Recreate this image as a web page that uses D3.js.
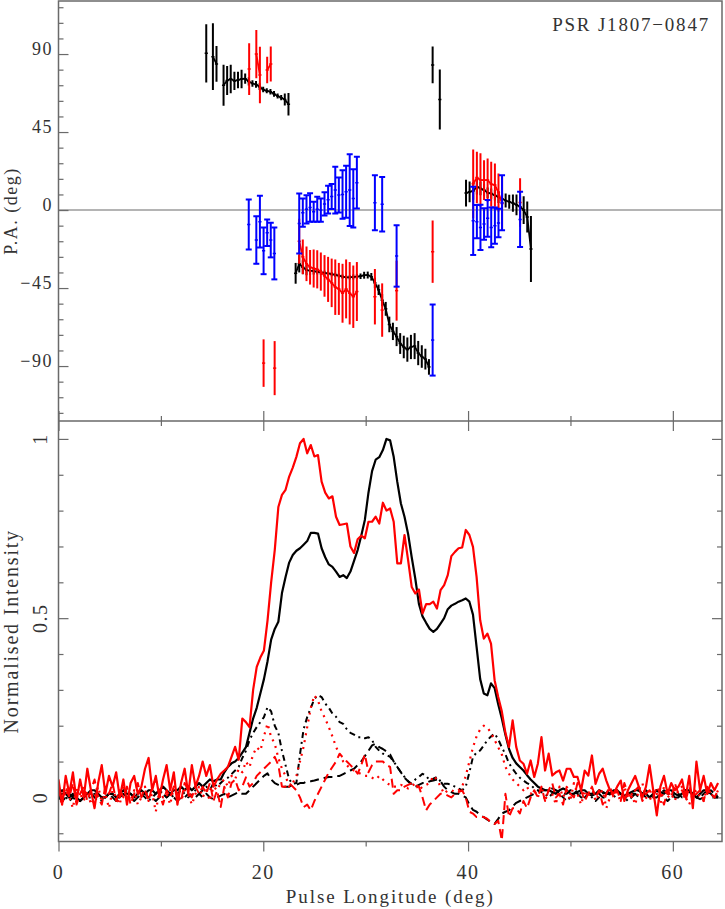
<!DOCTYPE html>
<html><head><meta charset="utf-8">
<script src="https://cdn.jsdelivr.net/npm/d3@7"></script>
<style>
body{margin:0;background:#fff}
text{font-family:"Liberation Serif","Times New Roman",serif;fill:#333;}
</style>
</head><body>
<svg id="c" width="725" height="909"></svg>
<script>
// ---------------- DATA ----------------
const BIN_STEP = 0.352; // pulse longitude bin width (deg)

// Bottom panel profiles, one value per longitude bin
const iBlack = [
0.01,0.02,0.01,0.00,0.01,0.00,-0.01,0.00,0.01,0.02,
0.02,0.01,0.00,0.00,0.01,0.01,0.00,0.01,0.02,0.01,
0.01,0.00,0.01,0.02,0.01,0.02,0.02,0.01,0.02,0.03,
0.02,0.01,0.02,0.02,0.03,0.02,0.03,0.02,0.03,0.04,
0.03,0.04,0.05,0.045,0.05,0.05,0.07,0.085,0.095,0.10,
0.11,0.125,0.14,0.18,0.22,0.25,0.29,0.33,0.38,0.44,
0.47,0.49,0.57,0.615,0.655,0.676,0.688,0.695,0.705,0.715,
0.738,0.738,0.736,0.695,0.67,0.65,0.643,0.63,0.615,0.62,
0.612,0.63,0.66,0.69,0.73,0.774,0.85,0.91,0.942,0.949,
0.969,1.0,0.996,0.95,0.88,0.82,0.783,0.735,0.67,0.61,
0.54,0.505,0.487,0.47,0.462,0.47,0.485,0.50,0.525,0.535,
0.54,0.546,0.55,0.555,0.546,0.51,0.42,0.33,0.29,0.285,
0.318,0.305,0.26,0.22,0.175,0.135,0.11,0.095,0.085,0.075,
0.062,0.05,0.04,0.03,0.025,0.02,0.02,0.015,0.01,0.02,
0.025,0.02,0.01,0.01,0.015,0.02,0.02,0.01,0.005,0.01,
0.02,0.015,0.01,0.01,0.015,0.02,0.01,0.005,0.01,0.015,
0.02,0.02,0.01,0.01,0.0,0.01,0.02,0.015,0.01,0.02,
0.02,0.01,0.005,0.01,0.02,0.015,0.01,0.0,0.01,0.02,
0.02,0.01,0.0,0.0];

const iRed = [
0.05,-0.02,0.06,0.01,0.07,-0.01,0.05,0.00,0.08,0.02,
-0.03,0.04,0.09,0.01,0.06,0.03,0.07,0.00,0.05,-0.02,
0.04,0.06,0.01,0.03,0.08,0.11,0.02,0.06,0.00,0.05,
0.09,0.02,0.07,-0.02,0.04,0.08,0.01,0.09,0.03,0.06,
0.10,0.06,0.09,0.03,0.05,0.066,0.075,0.085,0.113,0.141,
0.105,0.22,0.21,0.196,0.30,0.364,0.39,0.41,0.494,0.60,
0.69,0.81,0.844,0.858,0.895,0.92,0.95,0.988,1.0,0.96,
0.983,0.951,0.955,0.881,0.85,0.834,0.84,0.783,0.76,0.762,
0.764,0.70,0.682,0.72,0.73,0.723,0.769,0.769,0.783,0.764,
0.822,0.80,0.806,0.769,0.653,0.653,0.732,0.662,0.587,0.569,
0.58,0.513,0.539,0.539,0.546,0.527,0.578,0.592,0.62,0.673,
0.685,0.695,0.697,0.746,0.732,0.699,0.615,0.494,0.443,0.457,
0.429,0.327,0.28,0.24,0.18,0.141,0.215,0.141,0.103,0.094,
0.066,0.103,0.057,0.094,0.168,0.075,0.122,0.061,0.07,0.075,
0.047,0.08,0.08,0.057,0.057,0.02,0.075,0.061,0.117,0.038,
0.066,0.08,0.047,0.02,0.01,0.03,0.047,-0.01,0.02,0.04,
0.06,0.03,0.0,0.03,0.09,0.02,-0.05,0.03,0.06,0.01,
0.04,0.02,0.03,0.05,0.0,0.06,-0.03,0.1,0.02,0.06,
0.01,0.04,0.02,0.04];

const linBlack = [
0.0,0.01,0.0,-0.01,0.0,0.01,0.02,0.01,0.0,0.0,
0.01,0.0,-0.01,0.0,0.01,0.01,0.0,0.0,0.01,0.02,
0.01,0.0,0.0,0.01,0.0,-0.01,0.0,0.01,0.02,0.01,
0.0,0.01,0.0,0.01,0.02,0.01,0.0,0.01,0.02,0.01,
0.02,0.03,0.02,0.04,0.03,0.04,0.05,0.055,0.065,0.075,
0.085,0.11,0.13,0.16,0.18,0.196,0.21,0.224,0.252,0.24,
0.20,0.18,0.13,0.09,0.05,0.038,0.04,0.12,0.19,0.224,
0.25,0.275,0.285,0.28,0.262,0.25,0.234,0.225,0.21,0.205,
0.19,0.18,0.175,0.168,0.168,0.165,0.168,0.16,0.141,0.13,
0.122,0.118,0.113,0.10,0.085,0.07,0.057,0.045,0.038,0.05,
0.057,0.066,0.06,0.047,0.052,0.057,0.045,0.038,0.038,0.035,
0.03,0.025,0.02,0.03,0.07,0.113,0.125,0.131,0.145,0.16,
0.17,0.178,0.162,0.14,0.12,0.095,0.08,0.066,0.055,0.047,
0.04,0.035,0.025,0.02,0.015,0.01,0.0,0.01,0.02,0.01,
0.0,-0.01,0.0,0.01,0.02,0.01,0.0,0.01,0.0,-0.01,
0.0,0.01,0.02,0.01,0.0,0.01,0.01,0.0,-0.01,0.0,
0.01,0.02,0.01,0.0,0.0,0.01,0.02,0.01,0.0,-0.01,
0.0,0.01,0.01,0.0,0.01,0.02,0.01,0.0,0.0,0.01,
0.02,0.01,0.0,0.01];

const circBlack = [
0.0,-0.01,0.0,0.01,0.0,-0.01,-0.01,0.0,0.01,0.01,
0.0,-0.01,0.0,0.0,0.01,0.0,-0.01,0.0,0.01,0.0,
0.0,-0.01,0.0,0.01,0.01,0.0,0.0,-0.01,0.0,0.01,
0.0,0.01,0.0,-0.01,0.0,0.0,0.01,0.0,0.0,0.01,
0.0,0.01,0.0,-0.005,0.0,0.005,0.01,0.0,0.005,0.01,
0.015,0.01,0.01,0.02,0.03,0.04,0.05,0.06,0.067,0.05,
0.04,0.035,0.03,0.03,0.03,0.035,0.035,0.04,0.04,0.045,
0.045,0.047,0.05,0.05,0.055,0.057,0.057,0.06,0.06,0.065,
0.07,0.075,0.08,0.09,0.10,0.115,0.13,0.145,0.15,0.14,
0.135,0.128,0.12,0.10,0.085,0.07,0.055,0.045,0.035,0.03,
0.035,0.04,0.04,0.045,0.047,0.05,0.045,0.03,0.02,0.015,
0.01,0.01,0.005,0.0,-0.02,-0.035,-0.04,-0.05,-0.055,-0.062,
-0.068,-0.074,-0.06,-0.045,-0.04,-0.036,-0.025,-0.015,-0.01,-0.005,
0.0,0.005,0.01,0.015,0.02,0.02,0.02,0.025,0.02,0.015,
0.01,0.01,0.02,0.02,0.01,0.0,0.0,0.01,0.01,0.02,
0.01,0.0,0.0,0.01,0.02,0.02,0.01,0.0,0.0,0.01,
0.01,0.0,0.01,0.02,0.01,0.0,0.0,0.01,0.02,0.01,
0.01,0.0,0.0,0.01,0.02,0.02,0.01,0.0,-0.005,0.0,
0.01,0.02,0.01,0.0];

const linRed = [
0.01,-0.02,0.02,0.0,-0.03,0.03,0.01,-0.01,0.02,-0.02,
0.0,0.03,-0.01,0.01,-0.03,0.02,0.0,-0.02,0.03,0.01,
-0.01,0.02,-0.02,0.0,0.03,-0.01,0.01,-0.04,0.02,0.0,
0.01,-0.02,0.03,0.0,-0.01,0.02,0.01,-0.02,0.01,0.03,
0.0,0.02,-0.01,0.03,0.02,0.04,0.05,0.03,0.06,0.05,
0.08,0.07,0.10,0.084,0.12,0.14,0.13,0.17,0.206,0.168,
0.15,0.11,0.08,0.06,0.03,0.04,0.06,0.10,0.141,0.196,
0.25,0.285,0.27,0.24,0.22,0.196,0.17,0.141,0.12,0.10,
0.09,0.08,0.075,0.07,0.065,0.06,0.06,0.055,0.05,0.06,
0.05,0.04,0.035,0.03,0.03,0.035,0.03,0.025,0.03,0.04,
0.02,0.03,0.035,0.04,0.06,0.05,0.03,0.01,0.02,0.02,
0.015,0.02,0.03,0.06,0.10,0.14,0.17,0.19,0.20,0.195,
0.18,0.16,0.14,0.12,0.085,0.066,0.05,0.04,0.03,0.02,
0.03,0.01,0.02,0.0,0.03,-0.01,0.02,0.01,-0.02,0.03,
0.0,0.02,-0.01,0.04,0.01,-0.02,0.02,0.0,0.03,-0.01,
0.01,0.02,-0.03,0.0,0.02,0.01,-0.01,0.03,0.0,0.01,
-0.02,0.02,0.04,0.0,-0.01,0.02,0.01,-0.02,0.03,0.0,
0.01,-0.01,0.02,0.03,0.0,-0.02,0.01,0.02,0.0,-0.01,
0.03,0.01,0.0,0.02];

const circRed = [
0.02,-0.01,0.03,0.0,0.04,-0.02,0.01,0.03,-0.01,0.02,
0.05,0.0,-0.02,0.03,0.01,0.04,-0.01,0.02,0.0,0.03,
-0.02,0.01,0.04,0.0,0.02,-0.01,0.03,0.05,0.01,-0.02,
0.02,0.0,0.03,0.01,-0.01,0.04,0.02,0.0,0.03,0.01,
0.03,0.01,0.04,-0.01,0.02,-0.027,0.03,0.0,0.04,0.05,
0.02,0.03,0.056,0.03,0.04,0.06,0.07,0.08,0.09,0.10,
0.113,0.09,0.03,0.03,0.04,0.03,0.02,0.0,-0.027,-0.02,
-0.036,-0.01,0.01,0.03,0.05,0.07,0.085,0.10,0.122,0.11,
0.10,0.09,0.08,0.066,0.09,0.12,0.07,0.09,0.10,0.10,
0.10,0.09,0.085,0.01,0.02,0.02,0.03,0.035,0.04,0.035,
0.03,0.0,-0.036,-0.02,-0.01,0.0,0.01,0.01,0.005,0.0,
0.01,0.015,0.02,0.0,-0.04,-0.045,-0.055,-0.055,-0.055,-0.06,
-0.07,-0.074,-0.065,-0.12,0.01,-0.055,-0.03,-0.03,-0.045,-0.01,
-0.03,0.0,0.02,0.0,0.03,-0.01,0.02,0.04,0.0,0.01,
-0.02,0.03,0.01,0.0,0.04,0.02,-0.01,0.01,0.03,0.0,
0.02,-0.02,0.01,0.03,0.0,0.02,-0.01,0.04,0.01,0.0,
0.02,0.03,-0.01,0.01,0.02,0.0,0.03,0.01,-0.02,0.02,
0.0,0.04,0.01,0.02,-0.01,0.03,0.0,0.01,0.02,-0.01,
0.03,0.01,0.0,0.02];

// Top panel: position angles (deg) with errors
const paBlackLon = [14.43,15.08,15.43,
16.12,16.47,16.82,17.18,17.53,17.88,18.23,18.58,18.94,19.29,19.64,19.99,20.34,20.70,21.05,21.40,21.75,22.10,22.46,
23.16,23.51,23.86,24.22,24.57,24.92,25.27,25.62,25.98,26.33,26.68,27.03,27.38,27.74,28.09,28.44,28.79,29.14,29.50,29.85,
30.20,30.55,30.90,31.26,31.61,31.96,32.31,32.66,33.02,33.37,33.72,34.07,34.42,34.78,35.13,35.48,35.83,36.18,
36.54,37.24,
39.80,40.15,40.50,40.86,41.21,41.56,41.91,42.26,42.62,42.97,43.32,43.67,44.02,44.38,44.73,45.08,45.43,45.78,46.14];
const paBlack = [90.4,88.5,84.3,
72.0,74.7,75.6,74.5,75.0,75.6,75.8,74.2,73.0,72.5,71.2,69.5,68.8,68.3,67.0,65.8,64.8,63.8,61.0,
-36.5,-31,-33,-34.6,-35,-35.2,-35.6,-36,-36.3,-36.6,-37,-37.4,-37.8,-38.4,-38.8,-38.8,-38.6,-38.4,-38.2,-37.6,
-37.5,-38.5,-42,-46,-52,-57,-66,-70,-73,-77,-79,-80.5,-79,-78.5,-82.5,-84.5,-86,-90.5,
83.7,63.8,
9.8,10.5,11,13.5,12.5,11.5,10,9.5,8.5,7.5,6.5,5.5,4.8,4,3,1.9,0,-4,-22.5];
const paBlackErr = [16.8,19.2,10.3,
11.8,8.4,8.2,5.3,4.8,5.3,3.0,2.4,1.9,2.0,2.0,1.6,1.4,1.6,1.7,1.5,1.5,3.5,6.5,
6,5,4,3,2.5,2,1.5,1.5,1.3,1.2,1.2,1.2,1.2,1.2,1.2,1.2,1.4,1.5,1.6,2,
2,2.2,3,3,3.5,4,4.5,5,5.5,6,6.5,7,7,7.5,7,6.5,6,4.5,
10.6,17.3,
7.7,6,5,4.5,4,3.5,3,3,3,3.5,3.5,4,4,5,6,6,8,9,19];

const paRedLon = [18.62,19.32,19.67,20.38,20.73, 20.03,21.11,
23.51,23.86,24.22,24.57,24.92,25.27,25.62,25.98,26.33,26.68,27.03,27.38,27.74,28.09,28.44,28.79,29.14,
30.90,31.61,33.02,36.54,
40.50,40.86,41.21,41.56,41.91,42.26,42.62,42.97,43.32, 45.08];
const paRed = [81.3,90,77.9,80.8,84.2, -88.3,-91.2,
-18,-27,-31,-33,-33.7,-34.2,-35.5,-38,-40,-42,-44.5,-45.5,-48,-45.5,-48,-50,-47,
-50,-57.7,-46.5,-24,
15.1,18.8,17.3,17.3,17.3,14.9,14.4,10.1,3.8, 4.3];
const paRedErr = [14.9,13.9,16.3,7.7,10.1, 13.7,15.6,
13,10,10,10,11,11,11,12,13,14,16,15,17,17,18,18,17,
16,15.4,17.3,18,
19.9,14.9,15.4,11.5,12.5,13,12.5,11,15.4, 14];

const paBlueLon = [18.58,19.32,19.67,20.03,20.38,20.73,21.08,
23.51,23.86,24.22,24.57,24.92,25.27,25.62,25.98,26.33,26.68,27.03,27.38,27.74,28.09,28.44,28.79,29.14,
30.90,31.61,33.02,36.54,
40.50,40.86,41.21,41.56,41.91,42.26,42.62,42.97,43.32, 45.08];
const paBlue = [-8.3,-17.3,-6.7,-23.5,-13.1,-17.3,-25,
-7.7,-1.5,0.4,1.5,-1,0.5,0,3.5,6,7.8,11.5,8.7,9,10.5,11.5,6.7,15.8,
4.2,3.3,-26.5,-75,
-6.2,-6.7,-10,-8,-4.8,-10,-9,-7.5,4.2, -5.4];
const paBlueErr = [14.4,13.7,14.9,13.5,7.7,10,15,
17.3,8.2,8.2,8.2,5.8,7.2,6.7,6.7,8,7.2,13.5,10.1,14,15,20.7,16.8,14.9,
15.9,15.7,17.7,20.5,
19.7,9.6,13,9.1,10.6,11.5,10.5,8.2,15.9, 15.9];

// Tick values and labels
const xMajor = [0,20,40,60];
const xMinor = [10,30,50];
const paMajor = [-90,-45,0,45,90];
const paMinor = [-117,-108,-99,-81,-72,-63,-54,-36,-27,-18,-9,9,18,27,36,54,63,72,81,99,108,117];
const intMajor = [0,0.5,1];
const intMinor = [-0.1,0.1,0.2,0.3,0.4,0.6,0.7,0.8,0.9];
const intLabels = ["0","0.5","1"];
const sourceName = "PSR J1807\u22120847";

// ---------------- LAYOUT ----------------
const L = 58.5, R = 722;
const topY0 = 1, midY = 421, botY1 = 841.5;
const FRAME = "#6a6a6a";

const x = d3.scaleLinear().domain([0, 64.8]).range([L, R]);
const yPA = d3.scaleLinear().domain([-121.7, 120.6]).range([midY, topY0]);
const yI = d3.scaleLinear().domain([-0.123, 1.05]).range([botY1, midY]);

const svg = d3.select("#c");
svg.append("rect").attr("width",725).attr("height",909).attr("fill","#fff");

const defs = svg.append("defs");
defs.append("clipPath").attr("id","clipTop").append("rect")
  .attr("x",L).attr("y",topY0).attr("width",R-L).attr("height",midY-topY0);
defs.append("clipPath").attr("id","clipBot").append("rect")
  .attr("x",L).attr("y",midY).attr("width",R-L).attr("height",botY1-midY);

function styleTicks(g){
  g.select(".domain").remove();
  g.selectAll("text").remove();
  g.selectAll("line").attr("stroke",FRAME).attr("stroke-width",1.2);
}

// ---------- TOP PANEL ----------
const gTop = svg.append("g");
gTop.append("line").attr("x1",L).attr("x2",R).attr("y1",yPA(0)).attr("y2",yPA(0))
  .attr("stroke","#b4b4b4").attr("stroke-width",2);

gTop.append("g").attr("transform",`translate(${L},0)`)
  .call(d3.axisLeft(yPA).tickValues(paMajor).tickSize(-10)).call(styleTicks);
gTop.append("g").attr("transform",`translate(${L},0)`)
  .call(d3.axisLeft(yPA).tickValues(paMinor).tickSize(-5)).call(styleTicks);
gTop.append("g").attr("transform",`translate(0,${midY})`)
  .call(d3.axisTop(x).tickValues(xMajor).tickSize(10)).call(styleTicks);
gTop.append("g").attr("transform",`translate(0,${midY})`)
  .call(d3.axisTop(x).tickValues(xMinor).tickSize(5)).call(styleTicks);

gTop.selectAll("text.pal").data(paMajor).join("text").attr("class","pal")
  .attr("x",53).attr("y",d=>yPA(d)+1).attr("text-anchor","end")
  .style("font-size","18px").style("letter-spacing","1.5px")
  .text(d=> d<0 ? "\u2212"+Math.abs(d) : String(d));

gTop.append("text").attr("transform",`translate(17,${yPA(0)+1}) rotate(-90)`)
  .attr("text-anchor","middle").style("font-size","18px").style("letter-spacing","1.5px")
  .text("P.A. (deg)");

gTop.append("text").attr("x",710).attr("y",31).attr("text-anchor","end")
  .style("font-size","19px").style("letter-spacing","1.8px").text(sourceName);

const gPA = gTop.append("g").attr("clip-path","url(#clipTop)");
function drawPA(lon, pa, err, color, connect, caps){
  const pts = lon.map((l,i)=>({l:l, p:pa[i], e:err[i]})).sort((a,b)=>a.l-b.l);
  const g = gPA.append("g");
  if(connect){
    const segs=[]; let cur=[pts[0]];
    for(let k=1;k<pts.length;k++){
      const a=pts[k-1], b=pts[k];
      if(b.l-a.l<0.5 && Math.abs(b.p-a.p)<40) cur.push(b); else {segs.push(cur); cur=[b];}
    }
    segs.push(cur);
    const line = d3.line().x(d=>x(d.l)).y(d=>yPA(d.p));
    segs.filter(s=>s.length>1).forEach(s=>{
      g.append("path").attr("d",line(s)).attr("fill","none")
        .attr("stroke",color).attr("stroke-width",1.8);
    });
  }
  pts.forEach(d=>{
    const cx = x(d.l);
    g.append("line").attr("x1",cx).attr("x2",cx)
      .attr("y1",yPA(d.p-d.e)).attr("y2",yPA(d.p+d.e))
      .attr("stroke",color).attr("stroke-width",2);
    g.append("line").attr("x1",cx-1.6).attr("x2",cx+1.6)
      .attr("y1",yPA(d.p)).attr("y2",yPA(d.p))
      .attr("stroke",color).attr("stroke-width",1.5);
    if(caps){
      [d.p-d.e, d.p+d.e].forEach(v=>{
        g.append("line").attr("x1",cx-3).attr("x2",cx+3)
          .attr("y1",yPA(v)).attr("y2",yPA(v))
          .attr("stroke",color).attr("stroke-width",2);
      });
    }
  });
}
drawPA(paBlackLon, paBlack, paBlackErr, "#000", true, false);
drawPA(paRedLon, paRed, paRedErr, "#ff0000", true, false);
drawPA(paBlueLon, paBlue, paBlueErr, "#0000ff", false, true);

gTop.append("path")
  .attr("d",`M${L},${midY}V${topY0}H${R}V${midY}`)
  .attr("fill","none").attr("stroke",FRAME).attr("stroke-width",1.5);

// ---------- BOTTOM PANEL ----------
const gBot = svg.append("g");
gBot.append("g").attr("transform",`translate(${L},0)`)
  .call(d3.axisLeft(yI).tickValues(intMajor).tickSize(-10)).call(styleTicks);
gBot.append("g").attr("transform",`translate(${L},0)`)
  .call(d3.axisLeft(yI).tickValues(intMinor).tickSize(-5)).call(styleTicks);
gBot.append("g").attr("transform",`translate(${R},0)`)
  .call(d3.axisRight(yI).tickValues(intMajor).tickSize(-10)).call(styleTicks);
gBot.append("g").attr("transform",`translate(${R},0)`)
  .call(d3.axisRight(yI).tickValues(intMinor).tickSize(-5)).call(styleTicks);
gBot.append("g").attr("transform",`translate(0,${midY})`)
  .call(d3.axisBottom(x).tickValues(xMajor).tickSize(10)).call(styleTicks);
gBot.append("g").attr("transform",`translate(0,${midY})`)
  .call(d3.axisBottom(x).tickValues(xMinor).tickSize(5)).call(styleTicks);
gBot.append("g").attr("transform",`translate(0,${botY1})`)
  .call(d3.axisBottom(x).tickValues(xMajor).tickSize(10)).call(styleTicks);
gBot.append("g").attr("transform",`translate(0,${botY1})`)
  .call(d3.axisBottom(x).tickValues(xMinor).tickSize(5)).call(styleTicks);

gBot.selectAll("text.il").data(intMajor).join("text").attr("class","il")
  .attr("transform",d=>`translate(47,${yI(d)}) rotate(-90)`)
  .attr("text-anchor","middle").style("font-size","20px").style("letter-spacing","1.5px")
  .text((d,i)=>intLabels[i]);
gBot.append("text").attr("transform",`translate(18,${(midY+botY1)/2}) rotate(-90)`)
  .attr("text-anchor","middle").style("font-size","20px").style("letter-spacing","1.8px")
  .text("Normalised Intensity");
gBot.selectAll("text.xl").data(xMajor).join("text").attr("class","xl")
  .attr("x",d=>x(d)).attr("y",879).attr("text-anchor","middle")
  .style("font-size","20px").style("letter-spacing","1.5px").text(d=>d);
gBot.append("text").attr("x",(L+R)/2).attr("y",903).attr("text-anchor","middle")
  .style("font-size","19px").style("letter-spacing","1.9px").text("Pulse Longitude (deg)");

const gLines = gBot.append("g").attr("clip-path","url(#clipBot)");
const prof = d3.line().x((d,i)=>x(i*BIN_STEP)).y(d=>yI(d));
const series = [
  {v:circBlack, c:"#000", dash:"9,5", w:2},
  {v:linBlack, c:"#000", dash:"6,4,2,4", w:2},
  {v:iBlack, c:"#000", dash:null, w:2.2},
  {v:circRed, c:"#ff0000", dash:"9,5", w:2},
  {v:linRed, c:"#ff0000", dash:"2,5", w:2.2},
  {v:iRed, c:"#ff0000", dash:null, w:2.2}
];
series.forEach(s=>{
  const p = gLines.append("path").attr("d",prof(s.v)).attr("fill","none")
    .attr("stroke",s.c).attr("stroke-width",s.w).attr("stroke-linejoin","round");
  if(s.dash) p.attr("stroke-dasharray",s.dash);
});

gBot.append("path")
  .attr("d",`M${L},${midY}V${botY1}H${R}V${midY}H${L}`)
  .attr("fill","none").attr("stroke",FRAME).attr("stroke-width",1.5);
</script>
</body></html>
